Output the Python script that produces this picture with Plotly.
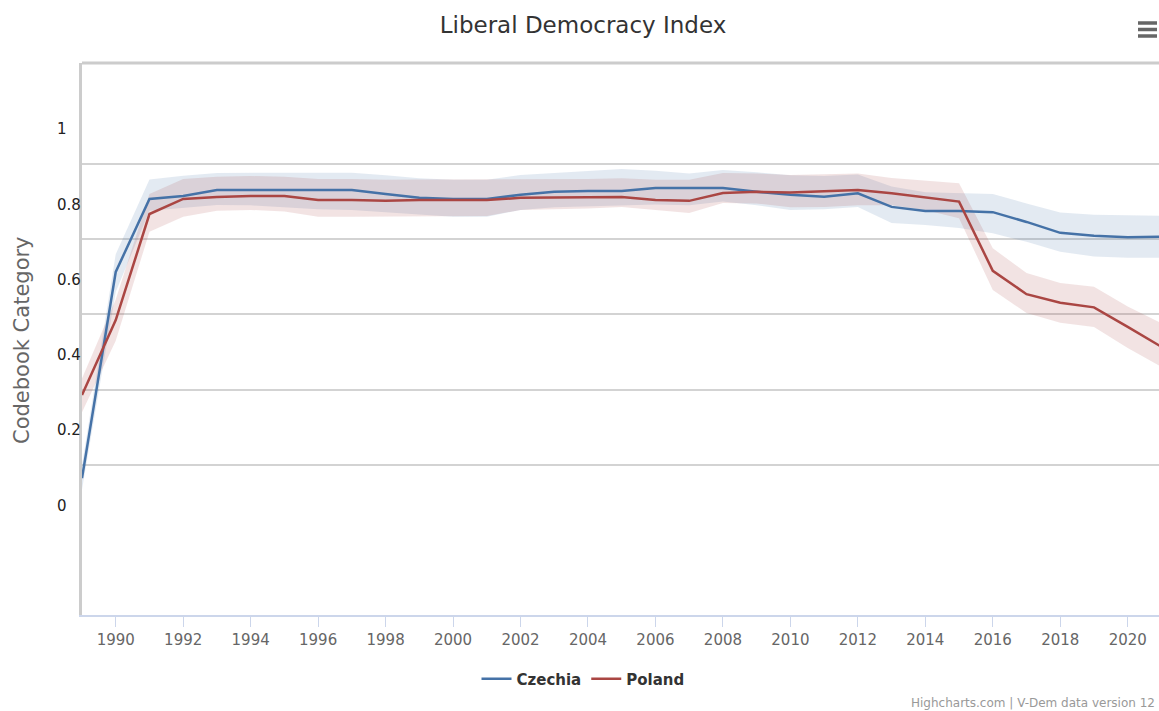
import plotly.graph_objects as go

years = list(range(1989, 2022))

czechia = [0.065, 0.613, 0.807, 0.815, 0.831, 0.831, 0.831, 0.831, 0.831, 0.820, 0.810,
           0.807, 0.807, 0.818, 0.826, 0.828, 0.828, 0.836, 0.836, 0.836, 0.826, 0.818,
           0.813, 0.822, 0.786, 0.775, 0.775, 0.772, 0.746, 0.717, 0.709, 0.705, 0.707]
czechia_hi = [0.100, 0.660, 0.859, 0.869, 0.876, 0.877, 0.877, 0.877, 0.877, 0.870, 0.862,
              0.858, 0.858, 0.871, 0.876, 0.880, 0.887, 0.882, 0.875, 0.884, 0.878, 0.870,
              0.868, 0.872, 0.840, 0.825, 0.823, 0.820, 0.795, 0.771, 0.765, 0.763, 0.762]
czechia_lo = [0.035, 0.560, 0.776, 0.783, 0.791, 0.790, 0.785, 0.780, 0.778, 0.772, 0.765,
              0.760, 0.760, 0.778, 0.785, 0.788, 0.790, 0.792, 0.790, 0.800, 0.790, 0.778,
              0.780, 0.786, 0.743, 0.738, 0.730, 0.716, 0.693, 0.667, 0.654, 0.651, 0.651]

poland = [0.286, 0.485, 0.767, 0.807, 0.812, 0.815, 0.815, 0.804, 0.804, 0.802, 0.804,
          0.804, 0.804, 0.810, 0.810, 0.810, 0.812, 0.804, 0.802, 0.823, 0.826, 0.824,
          0.828, 0.831, 0.822, 0.811, 0.800, 0.616, 0.554, 0.531, 0.519, 0.467, 0.414]
poland_hi = [0.330, 0.540, 0.820, 0.860, 0.866, 0.868, 0.866, 0.860, 0.860, 0.858, 0.859,
             0.859, 0.859, 0.859, 0.860, 0.860, 0.862, 0.858, 0.858, 0.876, 0.875, 0.871,
             0.873, 0.875, 0.863, 0.857, 0.849, 0.676, 0.610, 0.584, 0.574, 0.521, 0.477]
poland_lo = [0.240, 0.430, 0.720, 0.760, 0.776, 0.778, 0.774, 0.760, 0.760, 0.760, 0.762,
             0.762, 0.762, 0.778, 0.780, 0.782, 0.786, 0.778, 0.770, 0.796, 0.795, 0.785,
             0.786, 0.790, 0.790, 0.778, 0.756, 0.565, 0.504, 0.478, 0.467, 0.411, 0.361]

y_tick_vals = [0, 0.2, 0.4, 0.6, 0.8, 1]
y_tick_text = ["0", "0.2", "0.4", "0.6", "0.8", "1"]
grid_vals = [0.1, 0.3, 0.5, 0.7, 0.9]
x_tick_vals = list(range(1990, 2021, 2))

BLUE = "#4572A7"
RED = "#AA4643"
FONT = "Lucida Grande, DejaVu Sans, sans-serif"

W, H = 1159, 711
L, R, T, B = 82, 0, 63, 96
PW, PH = W - L - R, H - T - B


def px(x):
    return (x - L) / PW


def py(y):
    return (H - B - y) / PH


fig = go.Figure()

for lo, hi, col in [(czechia_lo, czechia_hi, "rgba(69,114,167,0.15)"),
                    (poland_lo, poland_hi, "rgba(170,70,67,0.15)")]:
    fig.add_trace(go.Scatter(x=years, y=lo, mode="lines", line=dict(width=0),
                             showlegend=False, hoverinfo="skip"))
    fig.add_trace(go.Scatter(x=years, y=hi, mode="lines", line=dict(width=0),
                             fill="tonexty", fillcolor=col, showlegend=False,
                             hoverinfo="skip"))

fig.add_trace(go.Scatter(x=years, y=czechia, mode="lines", name="Czechia",
                         line=dict(color=BLUE, width=2.5)))
fig.add_trace(go.Scatter(x=years, y=poland, mode="lines", name="Poland",
                         line=dict(color=RED, width=2.5)))

annotations = []
for v, t in zip(y_tick_vals, y_tick_text):
    annotations.append(dict(x=px(55), xref="paper", y=v, yref="y", text=t,
                            xanchor="left", yanchor="middle", showarrow=False,
                            yshift=-3,
                            font=dict(family=FONT, size=15, color="#222")))
annotations.append(dict(x=px(22), xref="paper", y=py(340), yref="paper",
                        text="Codebook Category", textangle=-90, showarrow=False,
                        xanchor="center", yanchor="middle",
                        font=dict(family=FONT, size=21, color="#666")))
annotations.append(dict(x=px(1157), xref="paper", y=py(703), yref="paper",
                        text="Highcharts.com | V-Dem data version 12", showarrow=False,
                        xanchor="right", yanchor="middle",
                        font=dict(family=FONT, size=12, color="#999")))

shapes = [
    dict(type="line", xref="paper", yref="paper", x0=0, x1=1.01, y0=1, y1=1,
         line=dict(color="#cccccc", width=3)),
]
for yy in (23, 29.5, 36):
    shapes.append(dict(type="line", xref="paper", yref="paper",
                       x0=px(1138), x1=px(1157), y0=py(yy), y1=py(yy),
                       line=dict(color="#666666", width=3.5)))

fig.update_layout(
    width=W, height=H,
    margin=dict(l=L, r=R, t=T, b=B, autoexpand=False),
    paper_bgcolor="white", plot_bgcolor="white",
    title=dict(text="Liberal Democracy Index", x=583 / W, xanchor="center",
               y=1 - 25 / H, yanchor="middle", yref="container",
               font=dict(family=FONT, size=23, color="#333")),
    xaxis=dict(range=[1989, 1989 + PW / 33.733], tickvals=x_tick_vals,
               showgrid=False, zeroline=False, showline=True, linecolor="#ccd6eb",
               linewidth=2, ticks="outside", ticklen=10, tickcolor="#ccd6eb",
               tickwidth=1, tickfont=dict(family=FONT, size=15, color="#666")),
    yaxis=dict(range=[-0.2987, 1.1684], showticklabels=False, showgrid=False,
               zeroline=False, showline=True, linecolor="#cccccc", linewidth=3,
               ticks="",
               minor=dict(tickvals=grid_vals, showgrid=True, gridcolor="#d3d3d3",
                          gridwidth=2, ticks="")),
    legend=dict(orientation="h", x=px(583), xanchor="center", y=py(679),
                yanchor="middle", traceorder="normal",
                font=dict(family=FONT, size=15, color="#333", weight="bold"),
                bgcolor="rgba(0,0,0,0)"),
    annotations=annotations,
    shapes=shapes,
    showlegend=True,
)

fig.write_html("out.html")
